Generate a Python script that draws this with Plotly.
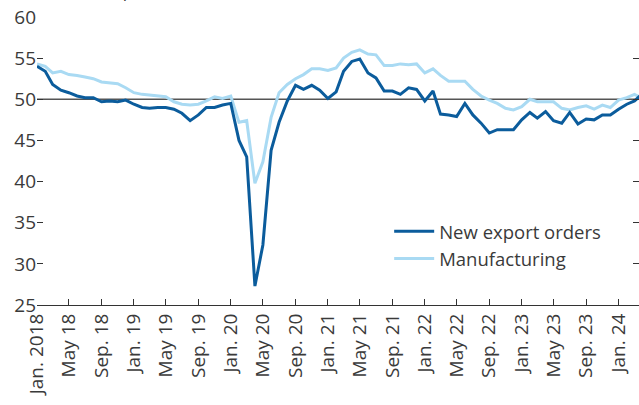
import pandas as pd
import plotly.graph_objs as go

# Monthly readings, Jan 2018 - Apr 2024
months = pd.date_range("2018-01-01", "2024-04-01", freq="MS")

new_export_orders = [
    54.0, 53.4, 51.8, 51.1, 50.8, 50.4, 50.2, 50.2, 49.7, 49.8, 49.7, 49.9,
    49.4, 49.0, 48.9, 49.0, 49.0, 48.8, 48.3, 47.4, 48.1, 49.0, 49.0, 49.3,
    49.5, 45.0, 43.0, 27.3, 32.3, 43.8, 47.2, 49.8, 51.7, 51.2, 51.7, 51.1,
    50.1, 50.9, 53.4, 54.6, 54.9, 53.2, 52.6, 51.0, 51.0, 50.6, 51.4, 51.2,
    49.8, 51.0, 48.2, 48.1, 47.9, 49.5, 48.1, 47.1, 45.9, 46.3, 46.3, 46.3,
    47.5, 48.4, 47.7, 48.5, 47.4, 47.1, 48.4, 47.0, 47.6, 47.5, 48.1, 48.1,
    48.8, 49.4, 49.8, 50.7,
]

manufacturing = [
    54.3, 54.0, 53.2, 53.4, 53.0, 52.9, 52.7, 52.5, 52.1, 52.0, 51.9, 51.4,
    50.8, 50.6, 50.5, 50.4, 50.3, 49.7, 49.4, 49.3, 49.4, 49.8, 50.3, 50.1,
    50.4, 47.2, 47.4, 39.8, 42.4, 47.8, 50.8, 51.8, 52.5, 53.0, 53.7, 53.7,
    53.5, 53.8, 55.0, 55.7, 56.0, 55.5, 55.4, 54.1, 54.1, 54.3, 54.2, 54.3,
    53.2, 53.7, 52.9, 52.2, 52.2, 52.2, 51.2, 50.4, 49.9, 49.5, 48.9, 48.7,
    49.1, 50.0, 49.7, 49.7, 49.7, 48.9, 48.7, 49.0, 49.2, 48.8, 49.3, 49.0,
    49.9, 50.2, 50.6, 50.1,
]

tick_dates = pd.date_range("2018-01-01", "2024-01-01", freq="4MS")
tick_labels = [
    "Jan. 2018", "May 18", "Sep. 18", "Jan. 19", "May 19", "Sep. 19",
    "Jan. 20", "May 20", "Sep. 20", "Jan. 21", "May 21", "Sep. 21",
    "Jan. 22", "May 22", "Sep. 22", "Jan. 23", "May 23", "Sep. 23", "Jan. 24",
]

dark_blue = "#0b5c9c"
light_blue = "#a9daf3"
text_grey = "#3a3a3a"

# dark series sits on the overlaying axis so it is drawn above the light one,
# and that axis also carries the bare tick marks on the right edge
data = [
    go.Scatter(x=months, y=new_export_orders, mode="lines", name="New export orders",
               line=dict(color=dark_blue, width=3), yaxis="y2"),
    go.Scatter(x=months, y=manufacturing, mode="lines", name="Manufacturing",
               line=dict(color=light_blue, width=3)),
]

y_range = [25, 60]

layout = go.Layout(
    width=639, height=405,
    margin=dict(l=37, r=0, t=17, b=100),
    paper_bgcolor="white", plot_bgcolor="white",
    font=dict(family="Open Sans", size=19, color=text_grey),
    showlegend=True,
    legend=dict(x=0.585, y=0.32, xanchor="left", yanchor="top",
                bgcolor="rgba(0,0,0,0)", font=dict(size=18.5),
                tracegroupgap=0, itemwidth=40, traceorder="normal"),
    xaxis=dict(
        type="date", range=["2018-01-01", "2024-03-18"], automargin=False,
        tickvals=tick_dates, ticktext=tick_labels, tickangle=-90,
        ticks="inside", ticklen=6, tickcolor="#333", showgrid=False,
        showline=True, linecolor="#333", linewidth=1, zeroline=False,
    ),
    yaxis=dict(
        range=y_range, dtick=5, ticks="inside", ticklen=6, tickcolor="#333",
        automargin=False, showline=False, showgrid=False, zeroline=False,
    ),
    yaxis2=dict(
        range=y_range, dtick=5, overlaying="y", side="right", ticks="inside",
        ticklen=6, tickcolor="#333", showticklabels=False, automargin=False,
        showline=False, showgrid=False, zeroline=False,
    ),
    shapes=[dict(type="line", xref="paper", x0=0, x1=1, yref="y", y0=50, y1=50,
                 line=dict(color="#555", width=1.5), layer="below")],
    annotations=[dict(text="(PMI index points, SA)", xref="paper", yref="paper",
                      x=-0.007, y=1.045, xanchor="left", yanchor="bottom",
                      showarrow=False, font=dict(size=17, color=text_grey))],
)

fig = go.Figure(data=data, layout=layout)
# drop the page's default body margin so the chart sits at the window's corner
fig.write_html("out.html", config={"displayModeBar": False},
               post_script="document.body.style.margin='0';")
